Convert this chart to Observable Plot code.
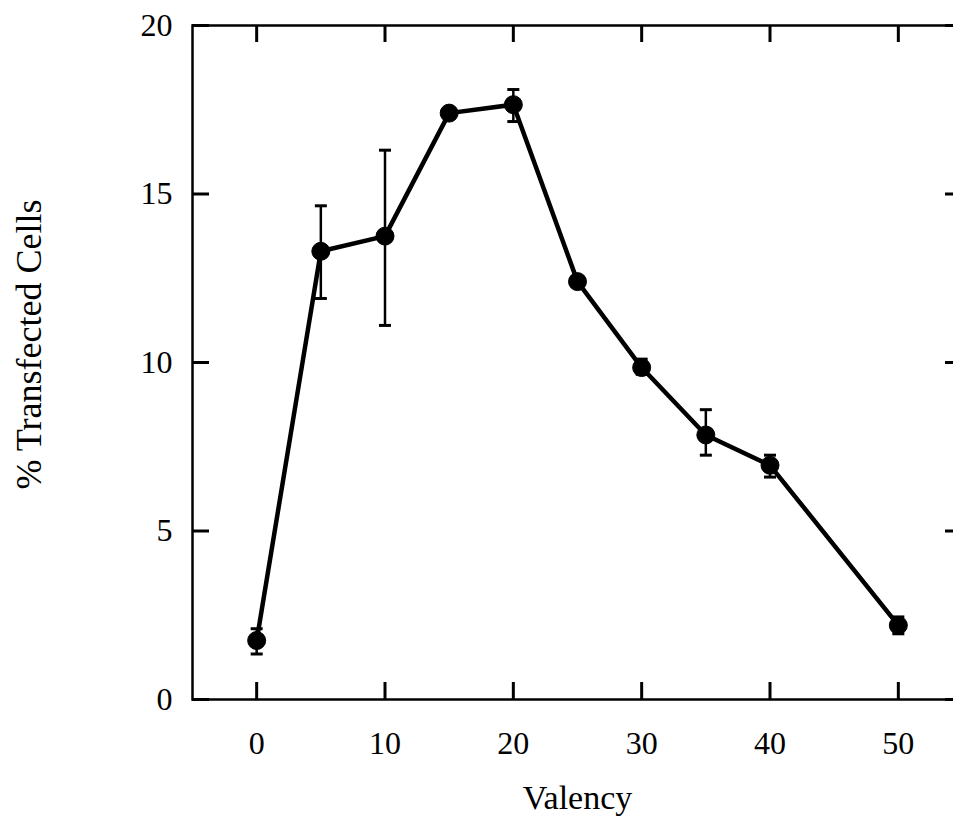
<!DOCTYPE html>
<html>
<head>
<meta charset="utf-8">
<script src="https://cdn.jsdelivr.net/npm/d3@7"></script>
<script src="https://cdn.jsdelivr.net/npm/@observablehq/plot@0.6"></script>
<style>
  html, body { margin: 0; padding: 0; background: #fff; overflow: hidden; }
  #chart { width: 953px; overflow: hidden; }
  #chart svg { display: block; max-width: none !important; width: 970px !important; height: 816px !important; }
</style>
</head>
<body>
<div id="chart"></div>
<script>
const valency = [0, 5, 10, 15, 20, 25, 30, 35, 40, 50];
const transfected = [1.75, 13.3, 13.75, 17.4, 17.65, 12.4, 9.85, 7.85, 6.95, 2.2];
const errLow  = [1.35, 11.9, 11.1, 17.3, 17.15, 12.3, 9.65, 7.25, 6.6, 1.95];
const errHigh = [2.1, 14.65, 16.3, 17.5, 18.1, 12.5, 10.1, 8.6, 7.25, 2.45];
const xTicks = [0, 10, 20, 30, 40, 50];
const yTicks = [0, 5, 10, 15, 20];
const xDomain = [-5, 55];
const yDomain = [0, 20];

const data = valency.map((v, i) => ({x: v, y: transfected[i], lo: errLow[i], hi: errHigh[i]}));

const W = 970, H = 816, mL = 192, mR = 8, mT = 25, mB = 117;
const innerW = W - mL - mR, innerH = H - mT - mB;
const tickLen = 17;

const capSymbol = {
  draw(ctx, size) {
    const r = 6;
    ctx.moveTo(-r, 0);
    ctx.lineTo(r, 0);
  }
};

const chart = Plot.plot({
  width: W,
  height: H,
  marginLeft: mL,
  marginRight: mR,
  marginTop: mT,
  marginBottom: mB,
  style: {fontFamily: "'Liberation Serif', 'Times New Roman', serif", fontSize: "32px", color: "#000", background: "#fff"},
  x: {domain: xDomain},
  y: {domain: yDomain},
  marks: [
    Plot.frame({stroke: "#000", strokeWidth: 2.5}),
    Plot.axisX({ticks: xTicks, tickSize: 0, tickPadding: 32, label: null, fontSize: 32}),
    Plot.axisY({ticks: yTicks, tickSize: 0, tickPadding: 20, label: null, fontSize: 32}),
    Plot.tickX(xTicks, {x: d => d, insetTop: innerH - tickLen, stroke: "#000", strokeWidth: 3}),
    Plot.tickX(xTicks, {x: d => d, insetBottom: innerH - tickLen, stroke: "#000", strokeWidth: 3}),
    Plot.tickY(yTicks, {y: d => d, insetRight: innerW - tickLen, stroke: "#000", strokeWidth: 3}),
    Plot.tickY(yTicks, {y: d => d, insetLeft: innerW - tickLen, stroke: "#000", strokeWidth: 3}),
    Plot.ruleX(data, {x: "x", y1: "lo", y2: "hi", stroke: "#000", strokeWidth: 2.5}),
    Plot.dot(data, {x: "x", y: "lo", symbol: capSymbol, stroke: "#000", strokeWidth: 3, r: 6}),
    Plot.dot(data, {x: "x", y: "hi", symbol: capSymbol, stroke: "#000", strokeWidth: 3, r: 6}),
    Plot.line(data, {x: "x", y: "y", stroke: "#000", strokeWidth: 4.5}),
    Plot.dot(data, {x: "x", y: "y", r: 9, fill: "#000", stroke: "#000", strokeWidth: 1}),
    Plot.text(["Valency"], {frameAnchor: "bottom", dy: 99, fontSize: 34, lineAnchor: "middle", textAnchor: "middle"}),
    Plot.text(["% Transfected Cells"], {frameAnchor: "left", dx: -163, dy: -18, rotate: -90, fontSize: 36, lineAnchor: "middle", textAnchor: "middle"})
  ]
});
document.getElementById("chart").appendChild(chart);
</script>
</body>
</html>
